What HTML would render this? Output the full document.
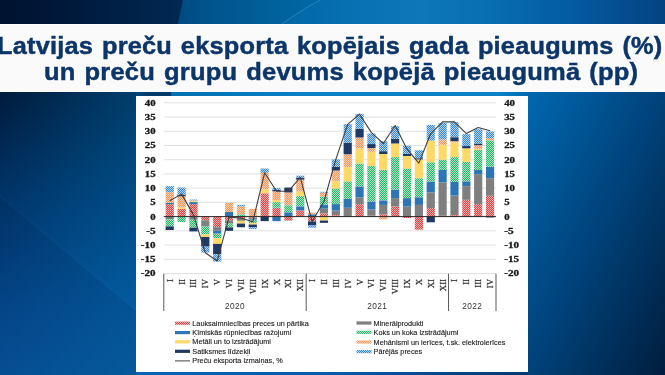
<!DOCTYPE html>
<html><head><meta charset="utf-8">
<style>
html,body{margin:0;padding:0;}
body{width:665px;height:375px;overflow:hidden;position:relative;font-family:"Liberation Sans",sans-serif;
 background:#003a70;}
#bg{position:absolute;left:0;top:0;width:665px;height:375px;overflow:hidden;background:#003a70;}
#zA{position:absolute;left:0;top:0;width:665px;height:24px;overflow:hidden;
 background:linear-gradient(90deg,#00122e 0px,#001c40 90px,#002a55 190px,#002a55 665px);}
#zA .in{position:absolute;left:0;top:0;width:665px;height:24px;clip-path:circle(422px at 593px 100px);
 background:linear-gradient(90deg,#00467e 170px,#00528a 200px,#0064a0 290px,#046eb0 360px,#0a74b6 420px,#066cb0 480px,#0058a0 560px,#003a78 665px);}
#zA .in2{position:absolute;left:0;top:0;width:665px;height:24px;clip-path:circle(403px at 515px 352px);background:rgba(40,150,220,0.10);}
#zA .ln2{position:absolute;left:112px;top:-51px;width:806px;height:806px;border-radius:50%;box-sizing:border-box;border:1px solid rgba(140,200,240,0.25);}
#zB{position:absolute;left:0;top:91px;width:665px;height:6px;overflow:hidden;
 background:linear-gradient(90deg,#001a3c 0px,#00467c 136px,#003a6a 150px,#003c6c 665px);}
#zB .in{position:absolute;left:0;top:0;width:665px;height:6px;clip-path:circle(422px at 593px 9px);
 background:linear-gradient(90deg,#0070b0 172px,#0a80c8 300px,#0a80c8 500px,#0060a0 540px,#002e62 665px);}
#zC{position:absolute;left:0;top:92px;width:136px;height:283px;
 background:linear-gradient(90deg, rgba(0,115,180,0) 0%, rgba(0,115,180,0.40) 100%), linear-gradient(180deg,#001b3c 0%,#003366 35%,#044a90 75%,#07569f 100%);}
#zC .dl{position:absolute;left:0;top:0;width:136px;height:283px;background:linear-gradient(40deg, rgba(0,20,60,0.12) 0%, rgba(0,20,60,0.10) 44.6%, rgba(60,140,210,0.04) 45%, rgba(0,0,0,0) 46%);}
#zD{position:absolute;left:528px;top:92px;width:137px;height:283px;
 background:linear-gradient(to bottom right,#0068b0 0%,#00427a 50%,#001e3e 100%);}
#zE{position:absolute;left:136px;top:371px;width:392px;height:4px;
 background:linear-gradient(90deg,#0a62b4 0%,#0a5aa8 50%,#003a70 100%);}
#band{position:absolute;left:0;top:24px;width:665px;height:68px;background:#fafafa;border-top:1px solid #fff;box-sizing:border-box;}
.t{position:absolute;white-space:nowrap;font-weight:bold;font-size:23.5px;line-height:27px;color:#0c3569;letter-spacing:0.2px;word-spacing:1.5px;-webkit-text-stroke:0.45px #0c3569;transform:scaleX(1.085);transform-origin:0 0;will-change:transform;}
#chart{position:absolute;left:136px;top:96px;width:392px;height:276px;background:#fff;}
svg{position:absolute;left:0;top:0;will-change:transform;}
.yl{font-family:"Liberation Serif",serif;font-weight:bold;font-size:8.6px;fill:#1a1a1a;stroke:#1a1a1a;stroke-width:0.3px;}
.ml{font-family:"Liberation Serif",serif;font-size:8.8px;fill:#333;stroke:#333;stroke-width:0.25px;}
.yr{font-family:"Liberation Sans",sans-serif;font-size:8.3px;fill:#333;letter-spacing:0.4px;}
.lg{font-family:"Liberation Sans",sans-serif;font-size:7.3px;fill:#1a1a1a;stroke:#1a1a1a;stroke-width:0.12px;}
</style></head><body>
<div id="bg"><div id="zA"><div class="in"></div><div class="in2"></div><div class="ln2"></div></div><div id="zB"><div class="in"></div></div><div id="zC"><div class="dl"></div></div><div id="zD"></div><div id="zE"></div></div>
<div id="band"></div>
<div class="t" id="t1" style="left:-3.2px;top:32.5px;transform:scaleX(1.078)">Latvijas preču eksporta kopējais gada pieaugums (%)</div>
<div class="t" id="t2" style="left:43.5px;top:58.5px">un preču grupu devums kopējā pieaugumā (pp)</div>
<div id="chart"></div>
<svg width="665" height="375" viewBox="0 0 665 375">
<defs><pattern id="pR" x="0" y="0" width="2" height="2" patternUnits="userSpaceOnUse"><rect width="2" height="2" fill="#efaeae"/><rect x="1" y="0" width="1" height="1" fill="#d94646"/><rect x="0" y="1" width="1" height="1" fill="#d94646"/></pattern><pattern id="pG" x="0" y="0" width="2" height="2" patternUnits="userSpaceOnUse"><rect width="2" height="2" fill="#ace4c4"/><rect x="1" y="0" width="1" height="1" fill="#26b466"/><rect x="0" y="1" width="1" height="1" fill="#26b466"/></pattern><pattern id="pO" x="0" y="0" width="2" height="2" patternUnits="userSpaceOnUse"><rect width="2" height="2" fill="#fad0b4"/><rect x="1" y="0" width="1" height="1" fill="#f2985a"/><rect x="0" y="1" width="1" height="1" fill="#f2985a"/></pattern><pattern id="pB" x="0" y="0" width="2" height="2" patternUnits="userSpaceOnUse"><rect width="2" height="2" fill="#b2d2f0"/><rect x="1" y="0" width="1" height="1" fill="#3888d4"/><rect x="0" y="1" width="1" height="1" fill="#3888d4"/></pattern></defs>
<line x1="163.8" x2="496" y1="273.50" y2="273.50" stroke="#d9d9d9" stroke-width="0.8"/>
<line x1="163.8" x2="496" y1="259.27" y2="259.27" stroke="#d9d9d9" stroke-width="0.8"/>
<line x1="163.8" x2="496" y1="245.05" y2="245.05" stroke="#d9d9d9" stroke-width="0.8"/>
<line x1="163.8" x2="496" y1="230.82" y2="230.82" stroke="#d9d9d9" stroke-width="0.8"/>
<line x1="163.8" x2="496" y1="202.38" y2="202.38" stroke="#d9d9d9" stroke-width="0.8"/>
<line x1="163.8" x2="496" y1="188.15" y2="188.15" stroke="#d9d9d9" stroke-width="0.8"/>
<line x1="163.8" x2="496" y1="173.92" y2="173.92" stroke="#d9d9d9" stroke-width="0.8"/>
<line x1="163.8" x2="496" y1="159.70" y2="159.70" stroke="#d9d9d9" stroke-width="0.8"/>
<line x1="163.8" x2="496" y1="145.47" y2="145.47" stroke="#d9d9d9" stroke-width="0.8"/>
<line x1="163.8" x2="496" y1="131.25" y2="131.25" stroke="#d9d9d9" stroke-width="0.8"/>
<line x1="163.8" x2="496" y1="117.02" y2="117.02" stroke="#d9d9d9" stroke-width="0.8"/>
<line x1="163.8" x2="496" y1="102.80" y2="102.80" stroke="#d9d9d9" stroke-width="0.8"/>
<rect x="165.63" y="204.08" width="8.2" height="12.52" fill="url(#pR)"/>
<rect x="165.63" y="202.94" width="8.2" height="1.14" fill="#2e75b6"/>
<rect x="165.63" y="192.13" width="8.2" height="10.81" fill="url(#pO)"/>
<rect x="165.63" y="186.16" width="8.2" height="5.97" fill="url(#pB)"/>
<rect x="165.63" y="216.60" width="8.2" height="2.70" fill="#7f7f7f"/>
<rect x="165.63" y="219.30" width="8.2" height="7.11" fill="url(#pG)"/>
<rect x="165.63" y="226.42" width="8.2" height="3.56" fill="#203864"/>
<rect x="177.50" y="208.92" width="8.2" height="7.68" fill="url(#pR)"/>
<rect x="177.50" y="207.35" width="8.2" height="1.56" fill="#ffd966"/>
<rect x="177.50" y="196.26" width="8.2" height="11.10" fill="url(#pO)"/>
<rect x="177.50" y="194.69" width="8.2" height="1.56" fill="#203864"/>
<rect x="177.50" y="187.58" width="8.2" height="7.11" fill="url(#pB)"/>
<rect x="177.50" y="216.60" width="8.2" height="5.41" fill="url(#pG)"/>
<rect x="189.36" y="204.08" width="8.2" height="12.52" fill="url(#pR)"/>
<rect x="189.36" y="202.09" width="8.2" height="1.99" fill="#2e75b6"/>
<rect x="189.36" y="201.24" width="8.2" height="0.85" fill="#ffd966"/>
<rect x="189.36" y="200.38" width="8.2" height="0.85" fill="url(#pO)"/>
<rect x="189.36" y="199.53" width="8.2" height="0.85" fill="url(#pB)"/>
<rect x="189.36" y="216.60" width="8.2" height="3.13" fill="#7f7f7f"/>
<rect x="189.36" y="219.73" width="8.2" height="7.97" fill="url(#pG)"/>
<rect x="189.36" y="227.70" width="8.2" height="3.70" fill="#203864"/>
<rect x="201.23" y="216.60" width="8.2" height="3.70" fill="url(#pR)"/>
<rect x="201.23" y="220.30" width="8.2" height="5.97" fill="#7f7f7f"/>
<rect x="201.23" y="226.27" width="8.2" height="8.25" fill="url(#pG)"/>
<rect x="201.23" y="234.52" width="8.2" height="2.42" fill="#ffd966"/>
<rect x="201.23" y="236.94" width="8.2" height="9.67" fill="#203864"/>
<rect x="201.23" y="246.61" width="8.2" height="5.97" fill="url(#pB)"/>
<rect x="213.09" y="216.60" width="8.2" height="10.53" fill="url(#pR)"/>
<rect x="213.09" y="227.13" width="8.2" height="3.70" fill="#7f7f7f"/>
<rect x="213.09" y="230.82" width="8.2" height="2.84" fill="#2e75b6"/>
<rect x="213.09" y="233.67" width="8.2" height="4.55" fill="url(#pG)"/>
<rect x="213.09" y="238.22" width="8.2" height="5.69" fill="#ffd966"/>
<rect x="213.09" y="243.91" width="8.2" height="10.24" fill="#203864"/>
<rect x="213.09" y="254.15" width="8.2" height="7.40" fill="url(#pB)"/>
<rect x="224.95" y="212.05" width="8.2" height="4.55" fill="#2e75b6"/>
<rect x="224.95" y="202.66" width="8.2" height="9.39" fill="url(#pO)"/>
<rect x="224.95" y="216.60" width="8.2" height="3.70" fill="url(#pR)"/>
<rect x="224.95" y="220.30" width="8.2" height="3.27" fill="#7f7f7f"/>
<rect x="224.95" y="223.57" width="8.2" height="3.84" fill="url(#pG)"/>
<rect x="224.95" y="227.41" width="8.2" height="3.41" fill="#203864"/>
<rect x="236.82" y="214.32" width="8.2" height="2.28" fill="url(#pG)"/>
<rect x="236.82" y="206.36" width="8.2" height="7.97" fill="url(#pO)"/>
<rect x="236.82" y="204.94" width="8.2" height="1.42" fill="url(#pB)"/>
<rect x="236.82" y="216.60" width="8.2" height="1.42" fill="url(#pR)"/>
<rect x="236.82" y="218.02" width="8.2" height="2.84" fill="#7f7f7f"/>
<rect x="236.82" y="220.87" width="8.2" height="2.70" fill="#ffd966"/>
<rect x="236.82" y="223.57" width="8.2" height="3.70" fill="#203864"/>
<rect x="248.68" y="208.92" width="8.2" height="7.68" fill="url(#pO)"/>
<rect x="248.68" y="216.60" width="8.2" height="0.85" fill="url(#pR)"/>
<rect x="248.68" y="217.45" width="8.2" height="1.42" fill="#7f7f7f"/>
<rect x="248.68" y="218.88" width="8.2" height="0.85" fill="#2e75b6"/>
<rect x="248.68" y="219.73" width="8.2" height="3.41" fill="url(#pG)"/>
<rect x="248.68" y="223.14" width="8.2" height="1.42" fill="#ffd966"/>
<rect x="248.68" y="224.57" width="8.2" height="2.56" fill="#203864"/>
<rect x="248.68" y="227.13" width="8.2" height="1.99" fill="url(#pB)"/>
<rect x="260.55" y="193.27" width="8.2" height="23.33" fill="url(#pR)"/>
<rect x="260.55" y="189.29" width="8.2" height="3.98" fill="#ffd966"/>
<rect x="260.55" y="172.79" width="8.2" height="16.50" fill="url(#pO)"/>
<rect x="260.55" y="168.52" width="8.2" height="4.27" fill="url(#pB)"/>
<rect x="260.55" y="216.60" width="8.2" height="4.55" fill="#203864"/>
<rect x="272.41" y="207.78" width="8.2" height="8.82" fill="url(#pR)"/>
<rect x="272.41" y="202.09" width="8.2" height="5.69" fill="url(#pG)"/>
<rect x="272.41" y="200.10" width="8.2" height="1.99" fill="#ffd966"/>
<rect x="272.41" y="191.28" width="8.2" height="8.82" fill="url(#pO)"/>
<rect x="272.41" y="189.86" width="8.2" height="1.42" fill="#203864"/>
<rect x="272.41" y="187.87" width="8.2" height="1.99" fill="url(#pB)"/>
<rect x="272.41" y="216.60" width="8.2" height="4.55" fill="#2e75b6"/>
<rect x="284.28" y="212.33" width="8.2" height="4.27" fill="#2e75b6"/>
<rect x="284.28" y="205.22" width="8.2" height="7.11" fill="url(#pG)"/>
<rect x="284.28" y="192.42" width="8.2" height="12.80" fill="url(#pO)"/>
<rect x="284.28" y="187.58" width="8.2" height="4.84" fill="#203864"/>
<rect x="284.28" y="216.60" width="8.2" height="3.98" fill="url(#pR)"/>
<rect x="296.14" y="210.34" width="8.2" height="6.26" fill="url(#pR)"/>
<rect x="296.14" y="206.36" width="8.2" height="3.98" fill="#2e75b6"/>
<rect x="296.14" y="196.12" width="8.2" height="10.24" fill="url(#pG)"/>
<rect x="296.14" y="191.56" width="8.2" height="4.55" fill="#ffd966"/>
<rect x="296.14" y="179.62" width="8.2" height="11.95" fill="url(#pO)"/>
<rect x="296.14" y="177.62" width="8.2" height="1.99" fill="#203864"/>
<rect x="296.14" y="175.63" width="8.2" height="1.99" fill="url(#pB)"/>
<rect x="308.00" y="214.32" width="8.2" height="2.28" fill="#2e75b6"/>
<rect x="308.00" y="212.62" width="8.2" height="1.71" fill="url(#pO)"/>
<rect x="308.00" y="216.60" width="8.2" height="4.84" fill="url(#pR)"/>
<rect x="308.00" y="221.44" width="8.2" height="3.98" fill="#203864"/>
<rect x="308.00" y="225.42" width="8.2" height="2.28" fill="url(#pB)"/>
<rect x="319.87" y="213.47" width="8.2" height="3.13" fill="url(#pR)"/>
<rect x="319.87" y="208.63" width="8.2" height="4.84" fill="#7f7f7f"/>
<rect x="319.87" y="204.65" width="8.2" height="3.98" fill="#2e75b6"/>
<rect x="319.87" y="196.69" width="8.2" height="7.97" fill="url(#pG)"/>
<rect x="319.87" y="192.70" width="8.2" height="3.98" fill="url(#pO)"/>
<rect x="319.87" y="191.85" width="8.2" height="0.85" fill="url(#pB)"/>
<rect x="319.87" y="216.60" width="8.2" height="3.98" fill="#ffd966"/>
<rect x="319.87" y="220.58" width="8.2" height="2.28" fill="#203864"/>
<rect x="331.73" y="215.18" width="8.2" height="1.42" fill="url(#pR)"/>
<rect x="331.73" y="210.63" width="8.2" height="4.55" fill="#7f7f7f"/>
<rect x="331.73" y="204.08" width="8.2" height="6.54" fill="#2e75b6"/>
<rect x="331.73" y="188.43" width="8.2" height="15.65" fill="url(#pG)"/>
<rect x="331.73" y="181.32" width="8.2" height="7.11" fill="#ffd966"/>
<rect x="331.73" y="170.51" width="8.2" height="10.81" fill="url(#pO)"/>
<rect x="331.73" y="166.81" width="8.2" height="3.70" fill="#203864"/>
<rect x="331.73" y="159.42" width="8.2" height="7.40" fill="url(#pB)"/>
<rect x="343.60" y="207.78" width="8.2" height="8.82" fill="#7f7f7f"/>
<rect x="343.60" y="198.96" width="8.2" height="8.82" fill="#2e75b6"/>
<rect x="343.60" y="181.32" width="8.2" height="17.64" fill="url(#pG)"/>
<rect x="343.60" y="167.10" width="8.2" height="14.23" fill="#ffd966"/>
<rect x="343.60" y="154.29" width="8.2" height="12.80" fill="url(#pO)"/>
<rect x="343.60" y="142.91" width="8.2" height="11.38" fill="#203864"/>
<rect x="343.60" y="124.14" width="8.2" height="18.78" fill="url(#pB)"/>
<rect x="355.46" y="204.08" width="8.2" height="12.52" fill="url(#pR)"/>
<rect x="355.46" y="197.54" width="8.2" height="6.54" fill="#7f7f7f"/>
<rect x="355.46" y="186.44" width="8.2" height="11.10" fill="#2e75b6"/>
<rect x="355.46" y="163.40" width="8.2" height="23.04" fill="url(#pG)"/>
<rect x="355.46" y="148.32" width="8.2" height="15.08" fill="#ffd966"/>
<rect x="355.46" y="137.51" width="8.2" height="10.81" fill="url(#pO)"/>
<rect x="355.46" y="128.69" width="8.2" height="8.82" fill="#203864"/>
<rect x="355.46" y="113.90" width="8.2" height="14.79" fill="url(#pB)"/>
<rect x="367.32" y="215.75" width="8.2" height="0.85" fill="url(#pR)"/>
<rect x="367.32" y="209.49" width="8.2" height="6.26" fill="#7f7f7f"/>
<rect x="367.32" y="201.52" width="8.2" height="7.97" fill="#2e75b6"/>
<rect x="367.32" y="165.96" width="8.2" height="35.56" fill="url(#pG)"/>
<rect x="367.32" y="151.73" width="8.2" height="14.23" fill="#ffd966"/>
<rect x="367.32" y="148.04" width="8.2" height="3.70" fill="url(#pO)"/>
<rect x="367.32" y="144.05" width="8.2" height="3.98" fill="#203864"/>
<rect x="367.32" y="133.53" width="8.2" height="10.53" fill="url(#pB)"/>
<rect x="379.19" y="214.32" width="8.2" height="2.28" fill="url(#pR)"/>
<rect x="379.19" y="204.94" width="8.2" height="9.39" fill="#7f7f7f"/>
<rect x="379.19" y="200.38" width="8.2" height="4.55" fill="#2e75b6"/>
<rect x="379.19" y="169.66" width="8.2" height="30.73" fill="url(#pG)"/>
<rect x="379.19" y="154.01" width="8.2" height="15.65" fill="#ffd966"/>
<rect x="379.19" y="151.16" width="8.2" height="2.84" fill="#203864"/>
<rect x="379.19" y="141.21" width="8.2" height="9.96" fill="url(#pB)"/>
<rect x="379.19" y="216.60" width="8.2" height="2.84" fill="url(#pO)"/>
<rect x="391.05" y="206.36" width="8.2" height="10.24" fill="url(#pR)"/>
<rect x="391.05" y="198.11" width="8.2" height="8.25" fill="#7f7f7f"/>
<rect x="391.05" y="189.57" width="8.2" height="8.53" fill="#2e75b6"/>
<rect x="391.05" y="157.14" width="8.2" height="32.43" fill="url(#pG)"/>
<rect x="391.05" y="143.48" width="8.2" height="13.66" fill="#ffd966"/>
<rect x="391.05" y="138.93" width="8.2" height="4.55" fill="#203864"/>
<rect x="391.05" y="126.13" width="8.2" height="12.80" fill="url(#pB)"/>
<rect x="402.92" y="206.64" width="8.2" height="9.96" fill="#7f7f7f"/>
<rect x="402.92" y="198.11" width="8.2" height="8.53" fill="#2e75b6"/>
<rect x="402.92" y="168.52" width="8.2" height="29.59" fill="url(#pG)"/>
<rect x="402.92" y="156.00" width="8.2" height="12.52" fill="#ffd966"/>
<rect x="402.92" y="154.01" width="8.2" height="1.99" fill="#203864"/>
<rect x="402.92" y="145.76" width="8.2" height="8.25" fill="url(#pB)"/>
<rect x="402.92" y="216.60" width="8.2" height="1.42" fill="url(#pR)"/>
<rect x="414.78" y="204.94" width="8.2" height="11.66" fill="#7f7f7f"/>
<rect x="414.78" y="197.25" width="8.2" height="7.68" fill="#2e75b6"/>
<rect x="414.78" y="178.19" width="8.2" height="19.06" fill="url(#pG)"/>
<rect x="414.78" y="159.42" width="8.2" height="18.78" fill="#ffd966"/>
<rect x="414.78" y="158.28" width="8.2" height="1.14" fill="#203864"/>
<rect x="414.78" y="150.31" width="8.2" height="7.97" fill="url(#pB)"/>
<rect x="414.78" y="216.60" width="8.2" height="13.09" fill="url(#pR)"/>
<rect x="426.65" y="208.06" width="8.2" height="8.53" fill="url(#pR)"/>
<rect x="426.65" y="192.42" width="8.2" height="15.65" fill="#7f7f7f"/>
<rect x="426.65" y="181.61" width="8.2" height="10.81" fill="#2e75b6"/>
<rect x="426.65" y="162.26" width="8.2" height="19.35" fill="url(#pG)"/>
<rect x="426.65" y="140.64" width="8.2" height="21.62" fill="#ffd966"/>
<rect x="426.65" y="124.99" width="8.2" height="15.65" fill="url(#pB)"/>
<rect x="426.65" y="216.60" width="8.2" height="5.69" fill="#203864"/>
<rect x="438.51" y="215.75" width="8.2" height="0.85" fill="url(#pR)"/>
<rect x="438.51" y="182.46" width="8.2" height="33.29" fill="#7f7f7f"/>
<rect x="438.51" y="169.94" width="8.2" height="12.52" fill="#2e75b6"/>
<rect x="438.51" y="159.70" width="8.2" height="10.24" fill="url(#pG)"/>
<rect x="438.51" y="144.91" width="8.2" height="14.79" fill="#ffd966"/>
<rect x="438.51" y="139.50" width="8.2" height="5.41" fill="url(#pO)"/>
<rect x="438.51" y="123.00" width="8.2" height="16.50" fill="url(#pB)"/>
<rect x="450.38" y="215.18" width="8.2" height="1.42" fill="url(#pR)"/>
<rect x="450.38" y="195.55" width="8.2" height="19.63" fill="#7f7f7f"/>
<rect x="450.38" y="181.89" width="8.2" height="13.66" fill="#2e75b6"/>
<rect x="450.38" y="157.14" width="8.2" height="24.75" fill="url(#pG)"/>
<rect x="450.38" y="142.35" width="8.2" height="14.79" fill="#ffd966"/>
<rect x="450.38" y="141.21" width="8.2" height="1.14" fill="url(#pO)"/>
<rect x="450.38" y="137.22" width="8.2" height="3.98" fill="#203864"/>
<rect x="450.38" y="122.15" width="8.2" height="15.08" fill="url(#pB)"/>
<rect x="462.24" y="199.81" width="8.2" height="16.79" fill="url(#pR)"/>
<rect x="462.24" y="186.16" width="8.2" height="13.66" fill="#7f7f7f"/>
<rect x="462.24" y="181.32" width="8.2" height="4.84" fill="#2e75b6"/>
<rect x="462.24" y="161.98" width="8.2" height="19.35" fill="url(#pG)"/>
<rect x="462.24" y="148.32" width="8.2" height="13.66" fill="#ffd966"/>
<rect x="462.24" y="146.04" width="8.2" height="2.28" fill="#203864"/>
<rect x="462.24" y="134.09" width="8.2" height="11.95" fill="url(#pB)"/>
<rect x="474.10" y="204.08" width="8.2" height="12.52" fill="url(#pR)"/>
<rect x="474.10" y="174.21" width="8.2" height="29.87" fill="#7f7f7f"/>
<rect x="474.10" y="169.94" width="8.2" height="4.27" fill="#2e75b6"/>
<rect x="474.10" y="150.03" width="8.2" height="19.92" fill="url(#pG)"/>
<rect x="474.10" y="148.89" width="8.2" height="1.14" fill="#ffd966"/>
<rect x="474.10" y="145.19" width="8.2" height="3.70" fill="url(#pO)"/>
<rect x="474.10" y="143.48" width="8.2" height="1.71" fill="#203864"/>
<rect x="474.10" y="129.26" width="8.2" height="14.23" fill="url(#pB)"/>
<rect x="485.97" y="195.83" width="8.2" height="20.77" fill="url(#pR)"/>
<rect x="485.97" y="178.19" width="8.2" height="17.64" fill="#7f7f7f"/>
<rect x="485.97" y="166.81" width="8.2" height="11.38" fill="#2e75b6"/>
<rect x="485.97" y="140.35" width="8.2" height="26.46" fill="url(#pG)"/>
<rect x="485.97" y="138.08" width="8.2" height="2.28" fill="url(#pO)"/>
<rect x="485.97" y="131.53" width="8.2" height="6.54" fill="url(#pB)"/>
<rect x="485.97" y="216.60" width="8.2" height="0.85" fill="#203864"/>
<line x1="163.8" x2="496" y1="216.6" y2="216.6" stroke="#262626" stroke-width="1"/>
<polyline points="169.73,200.67 181.60,194.12 193.46,214.89 205.33,252.73 217.19,260.98 229.05,217.17 240.92,218.02 252.78,221.72 264.65,172.79 276.51,191.28 288.38,191.28 300.24,177.34 312.10,221.44 323.97,201.52 335.83,159.42 347.70,124.42 359.56,114.18 371.43,132.67 383.29,143.48 395.15,125.56 407.02,149.17 418.88,163.11 430.75,133.53 442.61,121.86 454.48,121.86 466.34,133.53 478.20,127.55 490.07,130.68" fill="none" stroke="#404040" stroke-width="1.1" stroke-linejoin="round"/>
<text x="140.80" y="276.40" class="yl" textLength="14.8" lengthAdjust="spacingAndGlyphs">-20</text>
<text x="504.2" y="276.40" class="yl" textLength="14.8" lengthAdjust="spacingAndGlyphs">-20</text>
<text x="140.80" y="262.17" class="yl" textLength="14.8" lengthAdjust="spacingAndGlyphs">-15</text>
<text x="504.2" y="262.17" class="yl" textLength="14.8" lengthAdjust="spacingAndGlyphs">-15</text>
<text x="140.80" y="247.95" class="yl" textLength="14.8" lengthAdjust="spacingAndGlyphs">-10</text>
<text x="504.2" y="247.95" class="yl" textLength="14.8" lengthAdjust="spacingAndGlyphs">-10</text>
<text x="146.20" y="233.72" class="yl" textLength="9.4" lengthAdjust="spacingAndGlyphs">-5</text>
<text x="504.2" y="233.72" class="yl" textLength="9.4" lengthAdjust="spacingAndGlyphs">-5</text>
<text x="150.20" y="219.50" class="yl" textLength="5.4" lengthAdjust="spacingAndGlyphs">0</text>
<text x="504.2" y="219.50" class="yl" textLength="5.4" lengthAdjust="spacingAndGlyphs">0</text>
<text x="150.20" y="205.28" class="yl" textLength="5.4" lengthAdjust="spacingAndGlyphs">5</text>
<text x="504.2" y="205.28" class="yl" textLength="5.4" lengthAdjust="spacingAndGlyphs">5</text>
<text x="144.80" y="191.05" class="yl" textLength="10.8" lengthAdjust="spacingAndGlyphs">10</text>
<text x="504.2" y="191.05" class="yl" textLength="10.8" lengthAdjust="spacingAndGlyphs">10</text>
<text x="144.80" y="176.82" class="yl" textLength="10.8" lengthAdjust="spacingAndGlyphs">15</text>
<text x="504.2" y="176.82" class="yl" textLength="10.8" lengthAdjust="spacingAndGlyphs">15</text>
<text x="144.80" y="162.60" class="yl" textLength="10.8" lengthAdjust="spacingAndGlyphs">20</text>
<text x="504.2" y="162.60" class="yl" textLength="10.8" lengthAdjust="spacingAndGlyphs">20</text>
<text x="144.80" y="148.38" class="yl" textLength="10.8" lengthAdjust="spacingAndGlyphs">25</text>
<text x="504.2" y="148.38" class="yl" textLength="10.8" lengthAdjust="spacingAndGlyphs">25</text>
<text x="144.80" y="134.15" class="yl" textLength="10.8" lengthAdjust="spacingAndGlyphs">30</text>
<text x="504.2" y="134.15" class="yl" textLength="10.8" lengthAdjust="spacingAndGlyphs">30</text>
<text x="144.80" y="119.92" class="yl" textLength="10.8" lengthAdjust="spacingAndGlyphs">35</text>
<text x="504.2" y="119.92" class="yl" textLength="10.8" lengthAdjust="spacingAndGlyphs">35</text>
<text x="144.80" y="105.70" class="yl" textLength="10.8" lengthAdjust="spacingAndGlyphs">40</text>
<text x="504.2" y="105.70" class="yl" textLength="10.8" lengthAdjust="spacingAndGlyphs">40</text>
<line x1="163.80" x2="163.80" y1="273.7" y2="311" stroke="#595959" stroke-width="1"/>
<line x1="306.17" x2="306.17" y1="273.7" y2="311" stroke="#595959" stroke-width="1"/>
<line x1="448.54" x2="448.54" y1="273.7" y2="311" stroke="#595959" stroke-width="1"/>
<line x1="496.00" x2="496.00" y1="273.7" y2="311" stroke="#595959" stroke-width="1"/>
<text transform="translate(172.73,279) rotate(-90)" text-anchor="end" class="ml">I</text>
<text transform="translate(184.60,279) rotate(-90)" text-anchor="end" class="ml">II</text>
<text transform="translate(196.46,279) rotate(-90)" text-anchor="end" class="ml">III</text>
<text transform="translate(208.33,279) rotate(-90)" text-anchor="end" class="ml">IV</text>
<text transform="translate(220.19,279) rotate(-90)" text-anchor="end" class="ml">V</text>
<text transform="translate(232.05,279) rotate(-90)" text-anchor="end" class="ml">VI</text>
<text transform="translate(243.92,279) rotate(-90)" text-anchor="end" class="ml">VII</text>
<text transform="translate(255.78,279) rotate(-90)" text-anchor="end" class="ml">VIII</text>
<text transform="translate(267.65,279) rotate(-90)" text-anchor="end" class="ml">IX</text>
<text transform="translate(279.51,279) rotate(-90)" text-anchor="end" class="ml">X</text>
<text transform="translate(291.38,279) rotate(-90)" text-anchor="end" class="ml">XI</text>
<text transform="translate(303.24,279) rotate(-90)" text-anchor="end" class="ml">XII</text>
<text transform="translate(315.10,279) rotate(-90)" text-anchor="end" class="ml">I</text>
<text transform="translate(326.97,279) rotate(-90)" text-anchor="end" class="ml">II</text>
<text transform="translate(338.83,279) rotate(-90)" text-anchor="end" class="ml">III</text>
<text transform="translate(350.70,279) rotate(-90)" text-anchor="end" class="ml">IV</text>
<text transform="translate(362.56,279) rotate(-90)" text-anchor="end" class="ml">V</text>
<text transform="translate(374.43,279) rotate(-90)" text-anchor="end" class="ml">VI</text>
<text transform="translate(386.29,279) rotate(-90)" text-anchor="end" class="ml">VII</text>
<text transform="translate(398.15,279) rotate(-90)" text-anchor="end" class="ml">VIII</text>
<text transform="translate(410.02,279) rotate(-90)" text-anchor="end" class="ml">IX</text>
<text transform="translate(421.88,279) rotate(-90)" text-anchor="end" class="ml">X</text>
<text transform="translate(433.75,279) rotate(-90)" text-anchor="end" class="ml">XI</text>
<text transform="translate(445.61,279) rotate(-90)" text-anchor="end" class="ml">XII</text>
<text transform="translate(457.48,279) rotate(-90)" text-anchor="end" class="ml">I</text>
<text transform="translate(469.34,279) rotate(-90)" text-anchor="end" class="ml">II</text>
<text transform="translate(481.20,279) rotate(-90)" text-anchor="end" class="ml">III</text>
<text transform="translate(493.07,279) rotate(-90)" text-anchor="end" class="ml">IV</text>
<text x="234.99" y="308.8" text-anchor="middle" class="yr">2020</text>
<text x="377.36" y="308.8" text-anchor="middle" class="yr">2021</text>
<text x="472.27" y="308.8" text-anchor="middle" class="yr">2022</text>
<rect x="175" y="321.60" width="15" height="3.2" fill="url(#pR)"/>
<text x="192.3" y="325.70" class="lg">Lauksaimniecības preces un pārtika</text>
<rect x="175" y="331.00" width="15" height="3.2" fill="#2e75b6"/>
<text x="192.3" y="335.10" class="lg">Ķīmiskās rūpniecības ražojumi</text>
<rect x="175" y="340.20" width="15" height="3.2" fill="#ffd966"/>
<text x="192.3" y="344.30" class="lg">Metāli un to izstrādājumi</text>
<rect x="175" y="349.70" width="15" height="3.2" fill="#203864"/>
<text x="192.3" y="353.80" class="lg">Satiksmes līdzekļi</text>
<rect x="356.5" y="321.40" width="15" height="3.2" fill="#7f7f7f"/>
<text x="373.6" y="325.50" class="lg">Minerālprodukti</text>
<rect x="356.5" y="330.70" width="15" height="3.2" fill="url(#pG)"/>
<text x="373.6" y="334.80" class="lg">Koks un koka izstrādājumi</text>
<rect x="356.5" y="340.40" width="15" height="3.2" fill="url(#pO)"/>
<text x="373.6" y="344.50" class="lg">Mehānismi un ierīces, t.sk. elektroierīces</text>
<rect x="356.5" y="350.00" width="15" height="3.2" fill="url(#pB)"/>
<text x="373.6" y="354.10" class="lg">Pārējās preces</text>
<line x1="175" x2="190" y1="360.9" y2="360.9" stroke="#404040" stroke-width="1"/>
<text x="192.3" y="363.4" class="lg">Preču eksporta izmaiņas, %</text>
</svg>
</body></html>
